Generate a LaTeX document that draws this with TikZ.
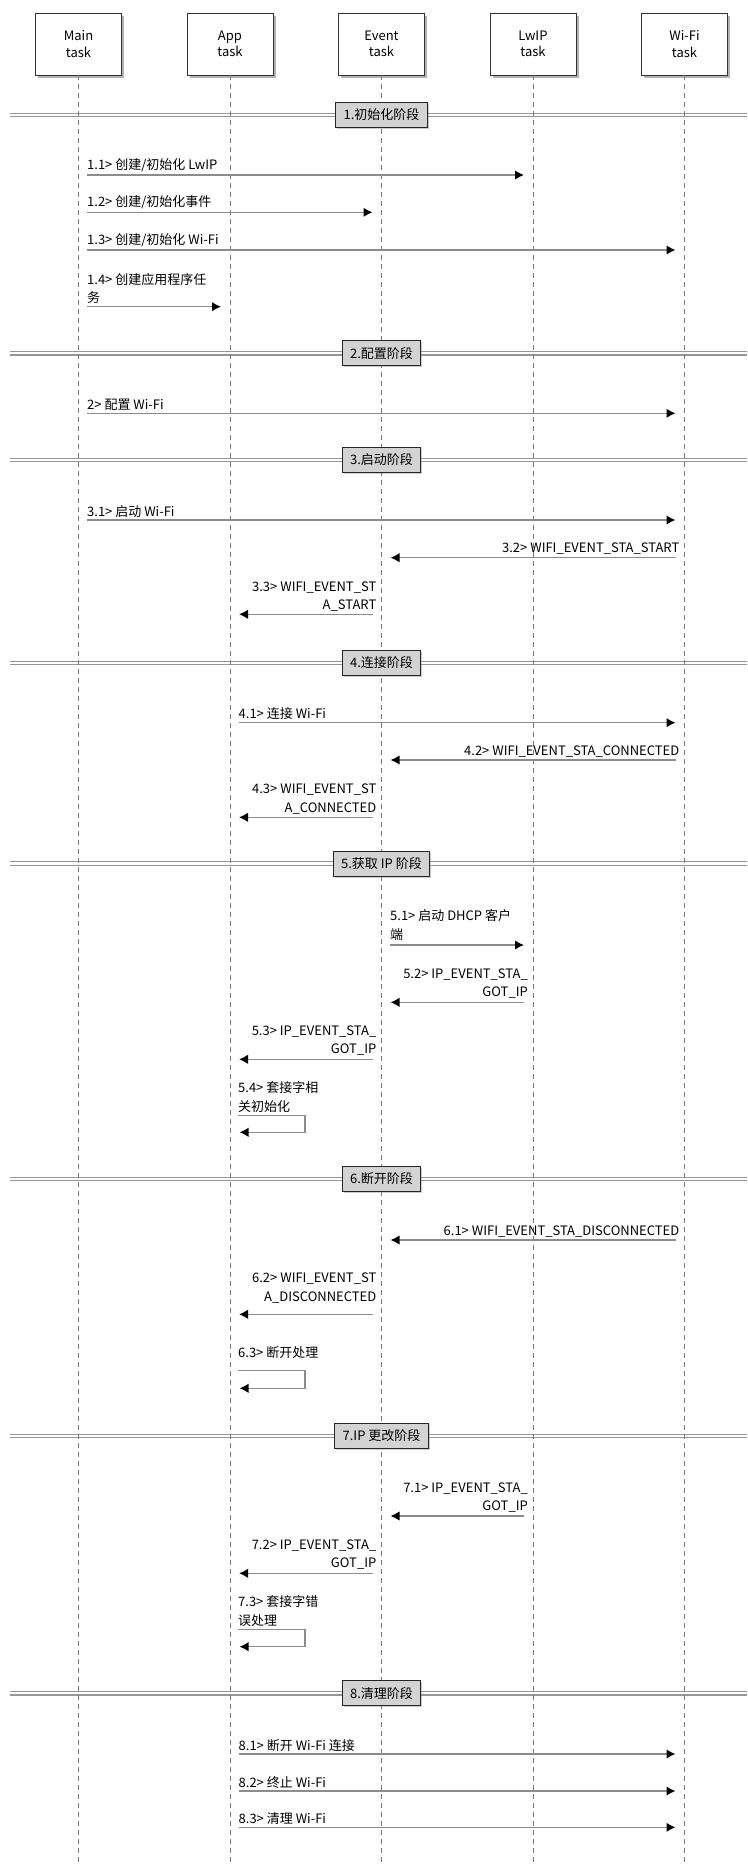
\documentclass[tikz,border=0pt]{standalone}
\usepackage{fontspec}
\setmainfont{Noto Sans CJK SC}
\usetikzlibrary{arrows.meta,shadows,calc}
\definecolor{lifegray}{RGB}{120,120,120}
\definecolor{msggray}{RGB}{140,140,140}
\definecolor{divgray}{RGB}{150,150,150}
\definecolor{labfill}{RGB}{211,211,211}
\tikzset{
  actor/.style={draw=black!80, fill=white, line width=0.9pt, minimum width=86pt, minimum height=62pt,
    align=center, inner sep=0pt, font=\fontsize{13}{16.5}\selectfont,
    drop shadow={shadow xshift=2.5pt, shadow yshift=-3pt, opacity=0.6}},
  life/.style={draw=lifegray, line width=0.7pt, dash pattern=on 5pt off 4pt},
  divline/.style={draw=divgray, line width=1.1pt, double=white, double distance=2.2pt},
  phase/.style={draw=black!85, fill=labfill, line width=0.9pt, minimum height=25pt, inner xsep=8pt,
    font=\fontsize{13}{16}\selectfont,
    drop shadow={shadow xshift=1.5pt, shadow yshift=-1.5pt, opacity=0.4}},
  msgline/.style={draw=msggray, line width=1.5pt, -{Latex[length=9pt,width=9.5pt,color=black]}},
  lbl/.style={inner sep=0pt, font=\fontsize{13}{18.3}\selectfont},
}
\def\xM{78.5}
\def\xA{230}
\def\xE{381.5}
\def\xL{533}
\def\xW{684.5}
% left-to-right message: name, src x, dst x, arrow y, label bottom y, text
\newcommand{\msgR}[6]{%
  \coordinate (#1a) at ({#2+8.5},#4);
  \coordinate (#1b) at ({#3-9},#4);
  \draw[msgline] (#1a) -- (#1b);
  \node[lbl, anchor=south west, align=left] (#1t) at ({#2+8.5},#5) {#6};
}
% right-to-left message
\newcommand{\msgL}[6]{%
  \coordinate (#1a) at ({#2-9},#4);
  \coordinate (#1b) at ({#3+9},#4);
  \draw[msgline] (#1a) -- (#1b);
  \node[lbl, anchor=south east, align=right] (#1t) at ({#2-5},#5) {#6};
}
% self message: name, x, top y, bottom y, label bottom y, text
\newcommand{\msgS}[6]{%
  \coordinate (#1a) at ({#2+8},#3);
  \coordinate (#1c) at ({#2+75},#3);
  \coordinate (#1d) at ({#2+75},#4);
  \coordinate (#1b) at ({#2+9.5},#4);
  \draw[msgline] (#1a) -- (#1c) -- (#1d) -- (#1b);
  \node[lbl, anchor=south west, align=left] (#1t) at ({#2+8},#5) {#6};
}
\begin{document}
\begin{tikzpicture}[x=1pt, y=-1pt]
\fill[white] (0,0) rectangle (747,1866);
\useasboundingbox (0,0) rectangle (747,1866);
\coordinate (bottom) at (0,1866);

% phase separator lines
\foreach \yy in {115,353.3,460,662.7,863.5,1179,1435.7,1693.3}
  \draw[divline] (9.5,\yy) -- (747,\yy);

% actors
\node[actor] (main)  at (\xM,44) {Main\\task};
\node[actor] (app)   at (\xA,44) {App\\task};
\node[actor] (event) at (\xE,44) {Event\\task};
\node[actor] (lwip)  at (\xL,44) {LwIP\\task};
\node[actor] (wifi)  at (\xW,44) {Wi-Fi\\task};

% lifelines
\foreach \n in {main,app,event,lwip,wifi}
  \draw[life] (\n.south) -- (\n.south |- bottom);

% phase labels
\node[phase] (p1) at (\xE,115)    {1.初始化阶段};
\node[phase] (p2) at (\xE,353.3)  {2.配置阶段};
\node[phase] (p3) at (\xE,460)    {3.启动阶段};
\node[phase] (p4) at (\xE,662.7)  {4.连接阶段};
\node[phase] (p5) at (\xE,863.5)  {5.获取 IP 阶段};
\node[phase] (p6) at (\xE,1179)   {6.断开阶段};
\node[phase] (p7) at (\xE,1435.7) {7.IP 更改阶段};
\node[phase] (p8) at (\xE,1693.3) {8.清理阶段};

% 1
\msgR{m11}{\xM}{\xL}{175}{172.3}{1.1> 创建/初始化 LwIP}
\msgR{m12}{\xM}{\xE}{212.3}{209.5}{1.2> 创建/初始化事件}
\msgR{m13}{\xM}{\xW}{250}{247.2}{1.3> 创建/初始化 Wi-Fi}
\msgR{m14}{\xM}{\xA}{306.7}{304}{1.4> 创建应用程序任\\务}
% 2
\msgR{m2}{\xM}{\xW}{413.3}{410.8}{2> 配置 Wi-Fi}
% 3
\msgR{m31}{\xM}{\xW}{520}{517.3}{3.1> 启动 Wi-Fi}
\msgL{m32}{\xW}{\xE}{557.7}{555}{3.2> WIFI\_EVENT\_STA\_START}
\msgL{m33}{\xE}{\xA}{614.3}{611.5}{3.3> WIFI\_EVENT\_ST\\A\_START}
% 4
\msgR{m41}{\xA}{\xW}{722.7}{720.2}{4.1> 连接 Wi-Fi}
\msgL{m42}{\xW}{\xE}{760}{757.3}{4.2> WIFI\_EVENT\_STA\_CONNECTED}
\msgL{m43}{\xE}{\xA}{817.3}{814.3}{4.3> WIFI\_EVENT\_ST\\A\_CONNECTED}
% 5
\msgR{m51}{\xE}{\xL}{945}{940.5}{5.1> 启动 DHCP 客户\\端}
\msgL{m52}{\xL}{\xE}{1002.3}{998.8}{5.2> IP\_EVENT\_STA\_\\GOT\_IP}
\msgL{m53}{\xE}{\xA}{1059.3}{1055.8}{5.3> IP\_EVENT\_STA\_\\GOT\_IP}
\msgS{m54}{\xA}{1115.7}{1132.3}{1112.5}{5.4> 套接字相\\关初始化}
% 6
\msgL{m61}{\xW}{\xE}{1240}{1237.3}{6.1> WIFI\_EVENT\_STA\_DISCONNECTED}
\msgL{m62}{\xE}{\xA}{1314.3}{1303.2}{6.2> WIFI\_EVENT\_ST\\A\_DISCONNECTED}
\msgS{m63}{\xA}{1370.7}{1388.3}{1359.2}{6.3> 断开处理}
% 7
\msgL{m71}{\xL}{\xE}{1516}{1512.5}{7.1> IP\_EVENT\_STA\_\\GOT\_IP}
\msgL{m72}{\xE}{\xA}{1573.3}{1569.8}{7.2> IP\_EVENT\_STA\_\\GOT\_IP}
\msgS{m73}{\xA}{1629.3}{1646.7}{1626.5}{7.3> 套接字错\\误处理}
% 8
\msgR{m81}{\xA}{\xW}{1754}{1751.3}{8.1> 断开 Wi-Fi 连接}
\msgR{m82}{\xA}{\xW}{1791}{1788.5}{8.2> 终止 Wi-Fi}
\msgR{m83}{\xA}{\xW}{1827.3}{1824.8}{8.3> 清理 Wi-Fi}
\end{tikzpicture}
\end{document}
